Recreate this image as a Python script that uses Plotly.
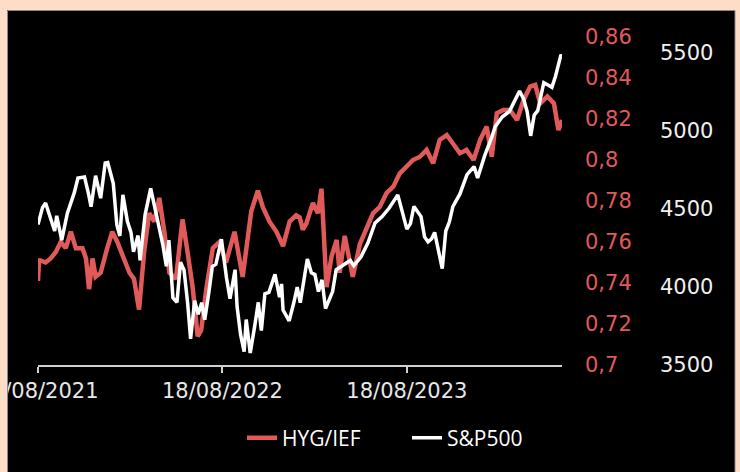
import plotly.graph_objects as go

# ---- data ----
hyg_dates = ["2021-08-18","2021-08-20","2021-08-23","2021-09-02","2021-09-12","2021-09-22","2021-10-02","2021-10-12",
             "2021-10-22","2021-11-01","2021-11-14","2021-11-21","2021-11-27","2021-12-04","2021-12-10","2021-12-20",
             "2022-01-02","2022-01-12","2022-01-22","2022-02-05","2022-02-15","2022-02-24","2022-03-06","2022-03-16",
             "2022-03-26","2022-04-05","2022-04-15","2022-04-25","2022-05-05","2022-05-18","2022-05-31","2022-06-10",
             "2022-06-20","2022-06-30","2022-07-07","2022-07-17","2022-07-30","2022-08-12","2022-08-25","2022-09-11",
             "2022-09-27","2022-10-14","2022-10-27","2022-11-06","2022-11-19","2022-12-03","2022-12-16","2022-12-29",
             "2023-01-11","2023-01-18","2023-01-24","2023-01-31","2023-02-13","2023-02-23","2023-03-02","2023-03-12",
             "2023-03-22","2023-04-01","2023-04-07","2023-04-17","2023-04-27","2023-05-03","2023-05-17","2023-05-30",
             "2023-06-12","2023-06-25","2023-07-09","2023-07-22","2023-08-04","2023-08-17","2023-08-30","2023-09-13",
             "2023-09-26","2023-10-09","2023-10-22","2023-11-05","2023-11-18","2023-12-01","2023-12-14","2023-12-28",
             "2024-01-10","2024-01-23","2024-02-02","2024-02-12","2024-02-25","2024-03-09","2024-03-23","2024-04-05",
             "2024-04-18","2024-04-28","2024-05-08","2024-05-22","2024-06-04","2024-06-13","2024-06-20"]
hyg_vals = [0.741,0.751,0.751,0.750,0.752,0.755,0.760,0.757,
            0.765,0.757,0.757,0.752,0.737,0.752,0.743,0.745,
            0.757,0.765,0.760,0.752,0.745,0.742,0.727,0.755,
            0.774,0.770,0.7815,0.765,0.745,0.742,0.771,0.755,
            0.738,0.714,0.717,0.737,0.757,0.760,0.750,0.765,
            0.743,0.775,0.785,0.777,0.770,0.765,0.758,0.770,
            0.773,0.772,0.766,0.769,0.779,0.774,0.786,0.738,
            0.753,0.761,0.745,0.763,0.751,0.743,0.759,0.767,
            0.774,0.777,0.784,0.787,0.7935,0.7967,0.800,0.8016,
            0.8049,0.7984,0.8098,0.8122,0.8081,0.8033,0.8049,0.800,
            0.8098,0.8163,0.8016,0.8228,0.8244,0.8244,0.8195,0.8293,
            0.8358,0.8366,0.8276,0.831,0.8276,0.8146,0.8195]

spx_dates = ["2021-08-18","2021-08-27","2021-09-02","2021-09-10","2021-09-20","2021-09-24","2021-10-04","2021-10-15",
             "2021-10-29","2021-11-05","2021-11-18","2021-11-26","2021-12-01","2021-12-10","2021-12-20","2021-12-29",
             "2022-01-03","2022-01-14","2022-01-21","2022-01-27","2022-02-02","2022-02-11","2022-02-18","2022-02-23",
             "2022-03-04","2022-03-08","2022-03-18","2022-03-29","2022-04-08","2022-04-14","2022-04-22","2022-04-29",
             "2022-05-04","2022-05-12","2022-05-20","2022-05-27","2022-06-03","2022-06-10","2022-06-16","2022-06-24",
             "2022-07-01","2022-07-08","2022-07-14","2022-07-22","2022-07-29","2022-08-05","2022-08-16","2022-08-26",
             "2022-09-02","2022-09-12","2022-09-16","2022-09-23","2022-09-30","2022-10-04","2022-10-12","2022-10-21",
             "2022-10-28","2022-11-03","2022-11-10","2022-11-18","2022-11-30","2022-12-09","2022-12-13","2022-12-16",
             "2022-12-28","2023-01-06","2023-01-13","2023-01-19","2023-02-02","2023-02-10","2023-02-17","2023-02-24",
             "2023-03-03","2023-03-10","2023-03-17","2023-03-24","2023-03-31","2023-04-14","2023-04-28","2023-05-05",
             "2023-05-19","2023-06-02","2023-06-16","2023-06-30","2023-07-14","2023-07-31","2023-08-11","2023-08-18",
             "2023-08-25","2023-09-01","2023-09-15","2023-09-22","2023-09-29","2023-10-06","2023-10-12","2023-10-20",
             "2023-10-27","2023-11-03","2023-11-10","2023-11-17","2023-12-01","2023-12-15","2023-12-29","2024-01-05",
             "2024-01-19","2024-02-02","2024-02-09","2024-02-23","2024-03-08","2024-03-28","2024-04-05","2024-04-12",
             "2024-04-19","2024-04-26","2024-05-03","2024-05-15","2024-05-31","2024-06-07","2024-06-12","2024-06-18",
             "2024-06-20"]
spx_vals = [4400,4509,4537,4459,4358,4455,4300,4471,
            4605,4697,4704,4595,4513,4712,4568,4793,
            4796,4662,4398,4326,4589,4418,4349,4225,
            4329,4170,4463,4631,4488,4392,4271,4132,
            4300,3930,3901,4158,4108,3901,3667,3912,
            3825,3899,3790,3962,4130,4145,4305,4058,
            3924,4110,3873,3693,3586,3791,3577,3752,
            3901,3720,3956,3965,4080,3934,4019,3852,
            3783,3895,3999,3899,4179,4090,4079,3970,
            4045,3861,3917,3970,4109,4137,4169,4136,
            4191,4282,4409,4450,4505,4589,4464,4370,
            4405,4515,4450,4320,4288,4308,4349,4224,
            4117,4358,4415,4514,4595,4719,4770,4697,
            4840,4959,5027,5089,5124,5254,5204,5123,
            4967,5100,5128,5308,5278,5347,5421,5487,
            5473]

series_names = ["HYG/IEF", "S&P500"]
red_ticks = [0.70, 0.72, 0.74, 0.76, 0.78, 0.80, 0.82, 0.84, 0.86]
red_ticktext = ["0,7", "0,72", "0,74", "0,76", "0,78", "0,8", "0,82", "0,84", "0,86"]
spx_ticks = [3500, 4000, 4500, 5000, 5500]
spx_ticktext = ["3500", "4000", "4500", "5000", "5500"]

RED = "#E05A5A"
PEACH = "#FDDDC6"
TICKFONT = "DejaVu Sans"

W, H = 740, 472
ML, MT, MB = 38, 37, 107
PW = W - ML          # plot width in px (margin r = 0)
PH = H - MT - MB     # plot height in px

def px_x(p):
    return (p - ML) / PW

def px_y(p):
    return (H - MB - p) / PH

fig = go.Figure()
fig.add_trace(go.Scatter(x=hyg_dates, y=hyg_vals, name=series_names[0], mode="lines",
                         line=dict(color=RED, width=4.5), yaxis="y"))
fig.add_trace(go.Scatter(x=spx_dates, y=spx_vals, name=series_names[1], mode="lines",
                         line=dict(color="white", width=3.5), yaxis="y2"))

fig.update_layout(
    width=W, height=H,
    margin=dict(l=ML, r=0, t=MT, b=MB, pad=0, autoexpand=False),
    paper_bgcolor="black", plot_bgcolor="black",
    showlegend=True,
    legend=dict(orientation="h", x=px_x(242), y=px_y(438), xanchor="left", yanchor="middle",
                font=dict(family="Open Sans", size=21, color="white"), bgcolor="rgba(0,0,0,0)",
                itemwidth=30, entrywidth=120),
    xaxis=dict(type="date", domain=[0, px_x(562)], range=["2021-08-18", "2024-06-20"],
               tick0="2021-08-18", dtick="M12", tickformat="%d/%m/%Y",
               showline=True, linecolor="#d0d0d0", linewidth=1.5,
               ticks="outside", ticklen=6, tickcolor="#d0d0d0", tickwidth=1.5,
               ticklabeloverflow="allow", automargin=False,
               tickfont=dict(family=TICKFONT, size=21, color="#e8e8e8"),
               showgrid=False, zeroline=False),
    yaxis=dict(side="right", anchor="x", range=[0.70, 0.86], tickvals=red_ticks, ticktext=red_ticktext,
               tickfont=dict(family=TICKFONT, size=21, color=RED), showgrid=False, zeroline=False,
               showline=False, ticks="", ticklabelstandoff=22, automargin=False),
    yaxis2=dict(overlaying="y", side="right", anchor="free", position=px_x(659),
                range=[3500, 5600], tickvals=spx_ticks, ticktext=spx_ticktext,
                tickfont=dict(family=TICKFONT, size=21, color="#f0f0f0"), showgrid=False, zeroline=False,
                showline=False, ticks="", automargin=False),
    shapes=[
        dict(type="rect", xref="paper", yref="paper", x0=px_x(-2), x1=px_x(7), y0=px_y(480), y1=px_y(-2),
             fillcolor=PEACH, line=dict(width=0), layer="above"),
        dict(type="rect", xref="paper", yref="paper", x0=px_x(735), x1=px_x(742), y0=px_y(480), y1=px_y(-2),
             fillcolor=PEACH, line=dict(width=0), layer="above"),
        dict(type="rect", xref="paper", yref="paper", x0=px_x(-2), x1=px_x(742), y0=px_y(10), y1=px_y(-2),
             fillcolor=PEACH, line=dict(width=0), layer="above"),
        dict(type="rect", xref="paper", yref="paper", x0=px_x(7.5), x1=px_x(735), y0=px_y(480), y1=px_y(10.5),
             fillcolor="rgba(0,0,0,0)", line=dict(width=1, color="#8a8a8a"), layer="above"),
    ],
)

fig.write_html("out.html", config={"displayModeBar": False},
               post_script="document.body.style.margin='0';document.body.style.overflow='hidden';")
